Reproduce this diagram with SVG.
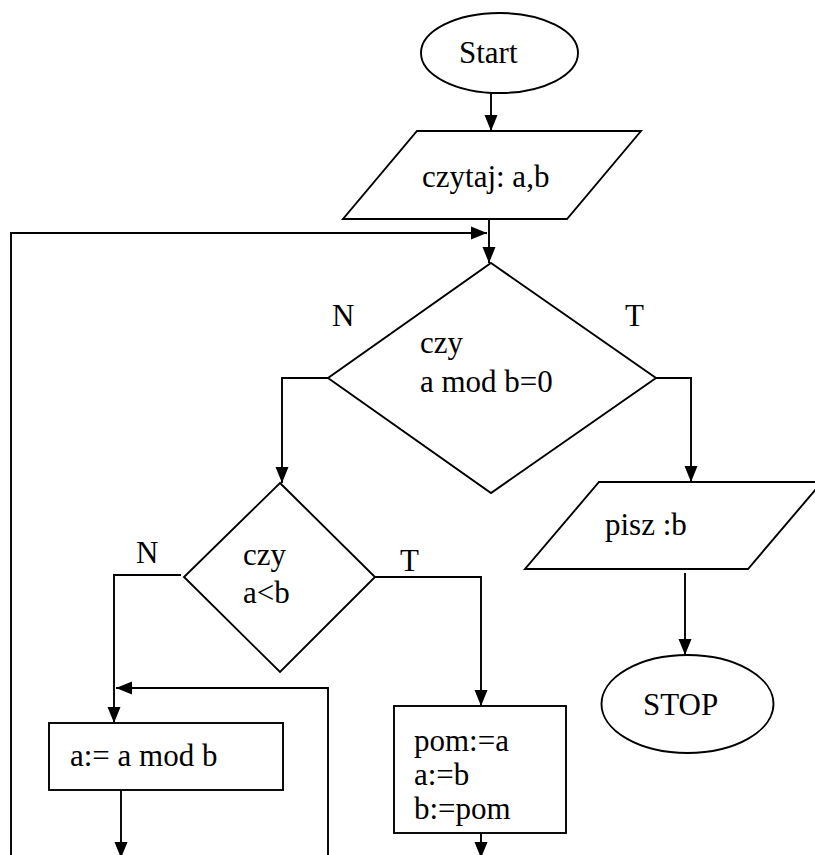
<svg xmlns="http://www.w3.org/2000/svg" width="815" height="855" viewBox="0 0 815 855" font-family="'Liberation Serif', 'DejaVu Serif', 'Times New Roman', Times, serif" font-size="31">
<defs>
<marker id="ah" markerUnits="userSpaceOnUse" markerWidth="17" markerHeight="14" refX="16" refY="7" orient="auto">
<path d="M0,0.5 L16,7 L0,13.5 z" fill="#000"/>
</marker>
<style>
.s{fill:#fff;stroke:#000;stroke-width:1.9}
.c{fill:none;stroke:#000;stroke-width:1.9}
.a{marker-end:url(#ah)}
.t{font-family:'Liberation Serif', 'DejaVu Serif', serif;font-size:31px;fill:#000}
</style>
</defs>
<rect width="815" height="855" fill="#fff"/>
<g id="connectors">
<path class="c a" d="M491,93 L491,131"/>
<path class="c a" d="M489,219 L489,263"/>
<path class="c a" d="M11,855 L11,233 L487,233"/>
<path class="c a" d="M656,378 L691,378 L691,482"/>
<path class="c a" d="M328,378 L282,378 L282,483"/>
<path class="c a" d="M181,575 L114,575 L114,723"/>
<path class="c a" d="M375,577 L481,577 L481,706"/>
<path class="c a" d="M328,855 L328,688 L116,688"/>
<path class="c a" d="M121,790 L121,858"/>
<path class="c a" d="M481,833 L481,858"/>
<path class="c a" d="M685,573 L685,655"/>
</g>
<g id="start">
<ellipse class="s" cx="499.5" cy="53" rx="78.5" ry="40"/>
<text class="t" x="459" y="63">Start</text>
</g>
<g id="read">
<polygon class="s" points="417,131 641,131 567,219 343,219"/>
<text class="t" x="422" y="187">czytaj: a,b</text>
</g>
<g id="cond1">
<polygon class="s" points="491,263 656,378 491,493 328,378"/>
<text class="t" x="420" y="353">czy</text>
<text class="t" x="420" y="392">a mod b=0</text>
<text class="t" x="332" y="326">N</text>
<text class="t" x="625" y="326">T</text>
</g>
<g id="cond2">
<polygon class="s" points="280,483 375,577 280,672 184,577"/>
<text class="t" x="243" y="565">czy</text>
<text class="t" x="243" y="603">a&lt;b</text>
<text class="t" x="136" y="563">N</text>
<text class="t" x="400" y="571">T</text>
</g>
<g id="mod">
<rect class="s" x="49" y="723" width="234" height="67"/>
<text class="t" x="70" y="766">a:= a mod b</text>
</g>
<g id="swap">
<rect class="s" x="394" y="706" width="172" height="127"/>
<text class="t" x="414" y="751">pom:=a</text>
<text class="t" x="414" y="785">a:=b</text>
<text class="t" x="414" y="819">b:=pom</text>
</g>
<g id="write">
<polygon class="s" points="599,482 822,482 748,569 525,569"/>
<text class="t" x="605" y="535">pisz :b</text>
</g>
<g id="stop">
<ellipse class="s" cx="687.5" cy="704" rx="86" ry="49"/>
<text class="t" x="643" y="715">STOP</text>
</g>
</svg>
